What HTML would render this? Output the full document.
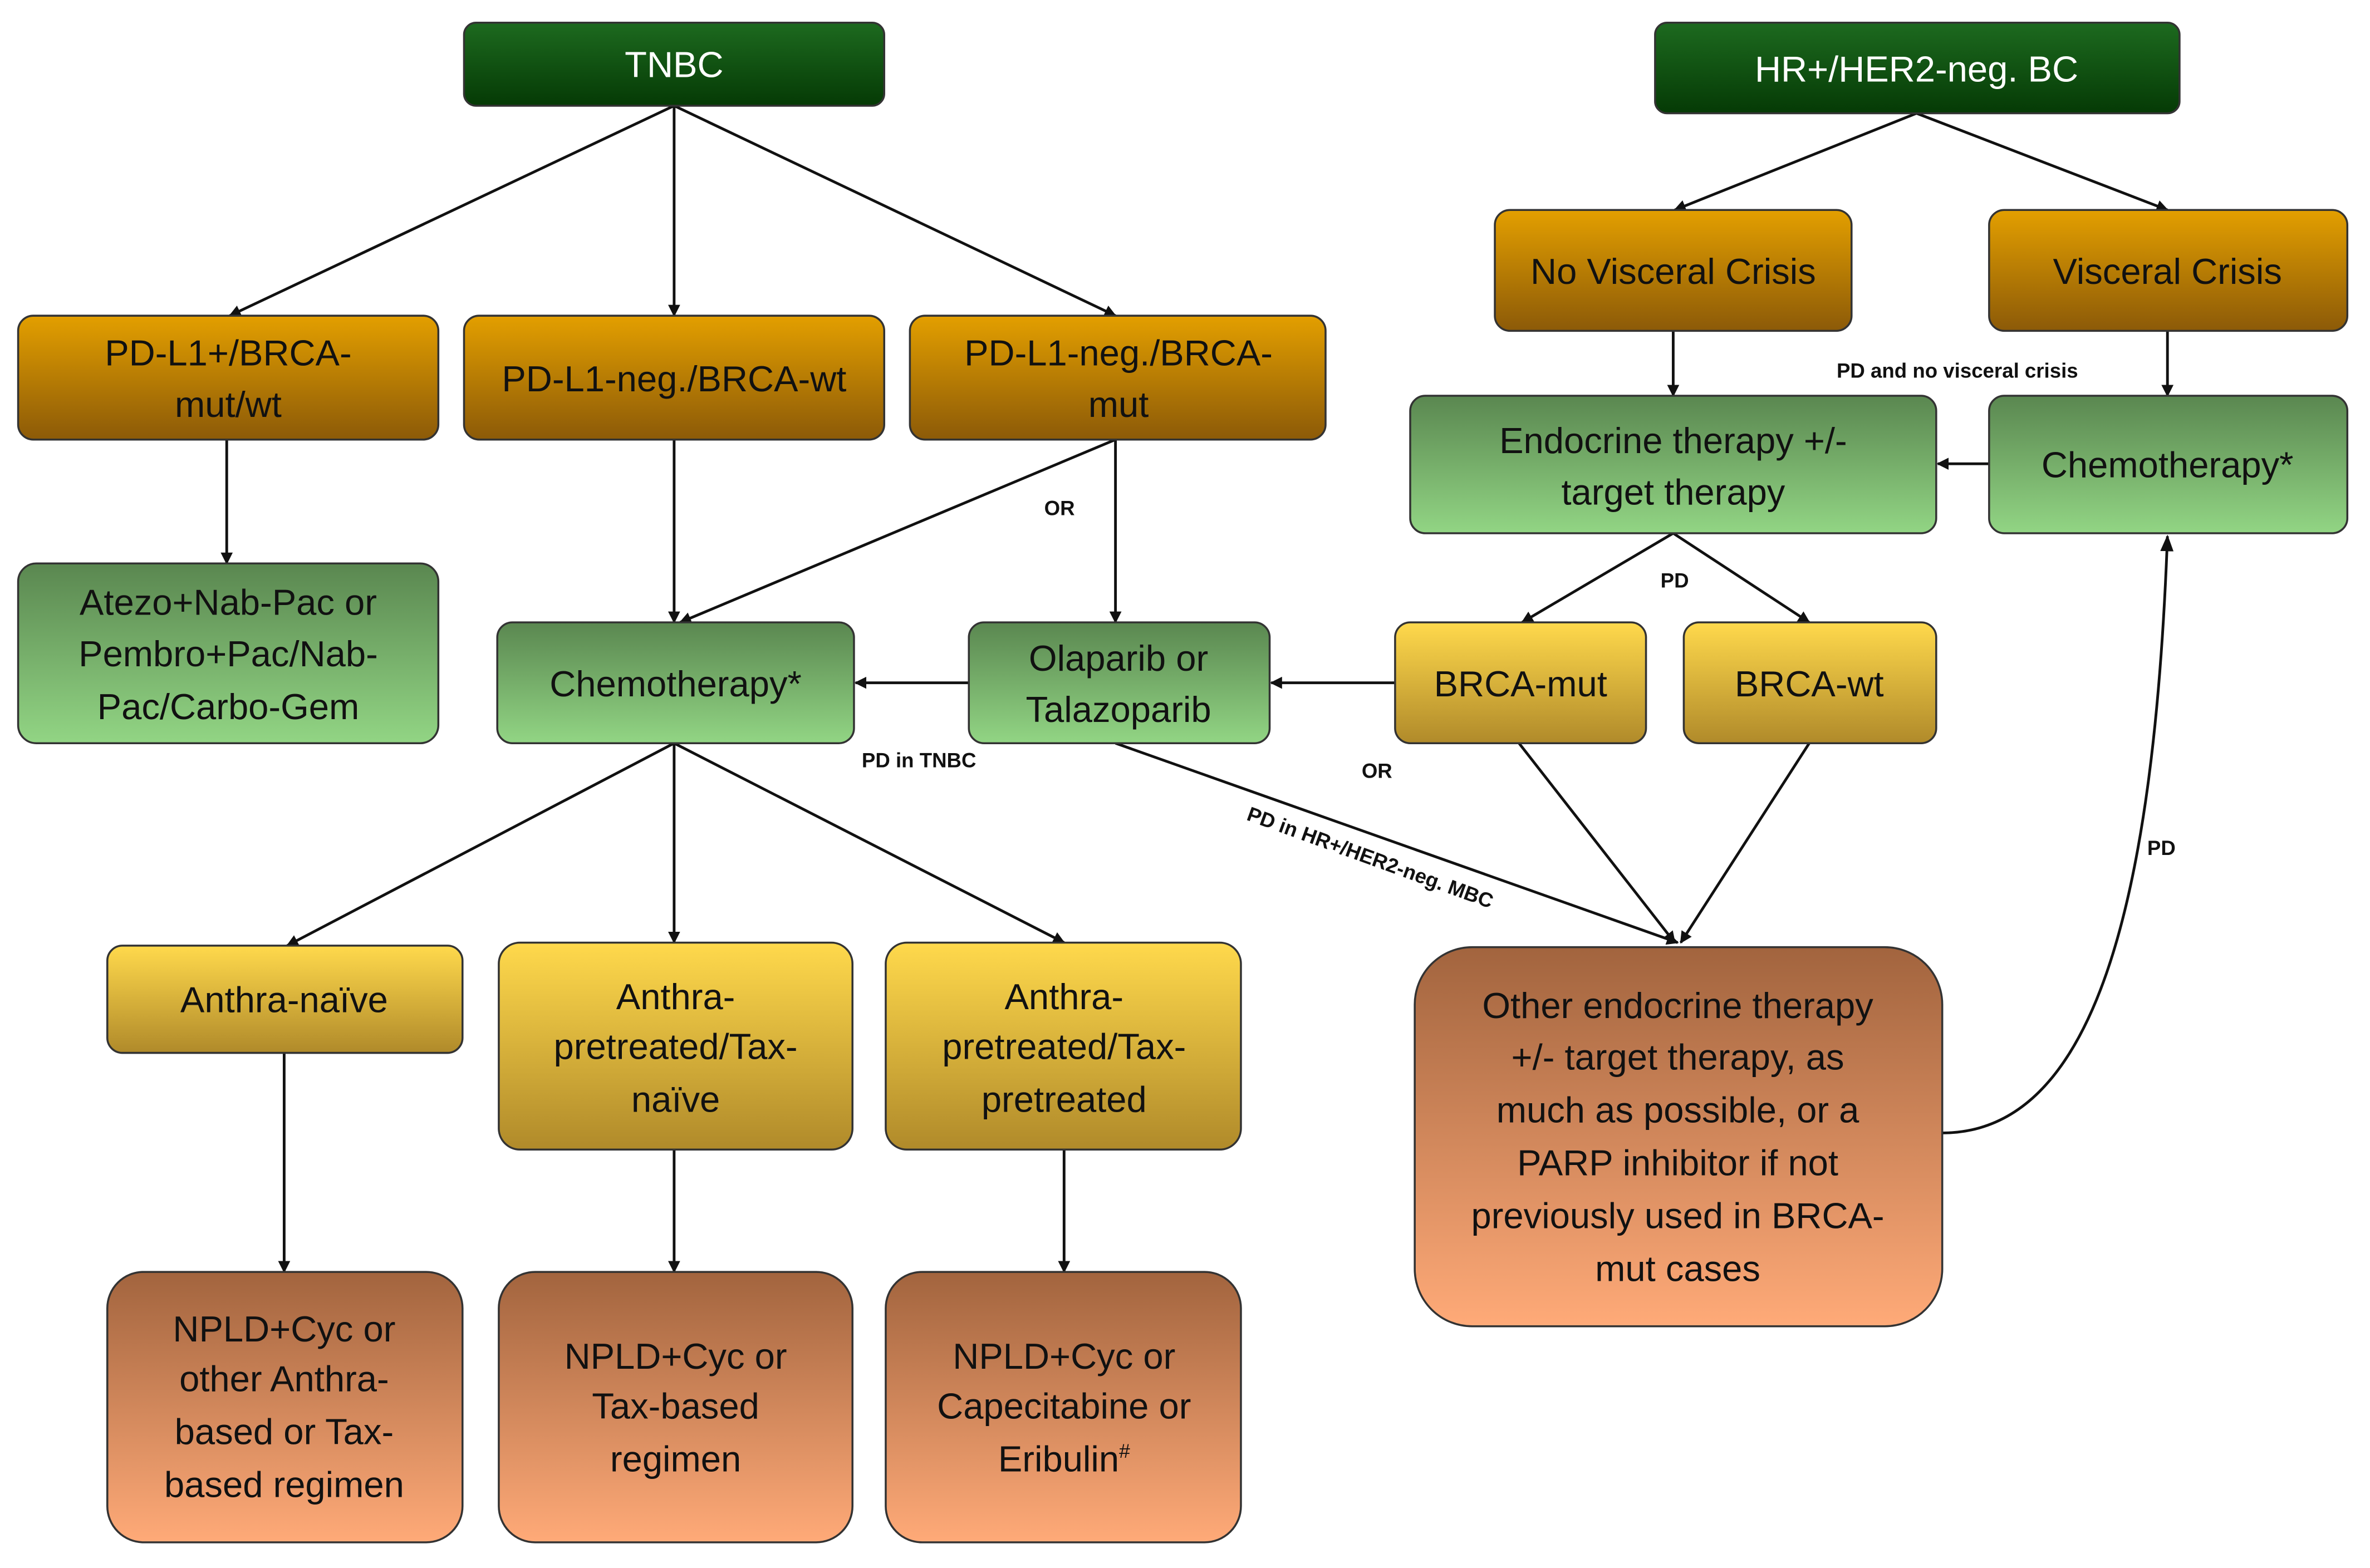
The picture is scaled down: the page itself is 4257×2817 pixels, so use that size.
<!DOCTYPE html>
<html><head><meta charset="utf-8"><style>
html,body{margin:0;padding:0;background:#fff;}
svg{display:block;}
text{font-family:"Liberation Sans",sans-serif;}
.t{font-size:24px;fill:#111;text-anchor:middle;}
.w{font-size:24px;fill:#fff;text-anchor:middle;}
.l{font-size:13.5px;font-weight:bold;fill:#111;text-anchor:middle;}
.b{stroke:#333;stroke-width:1.3;}
.e{stroke:#111;stroke-width:1.8;fill:none;marker-end:url(#ar);}
</style></head><body>
<svg width="4257" height="2817" viewBox="0 0 1568 1038" preserveAspectRatio="none" xmlns="http://www.w3.org/2000/svg">
<defs>
<linearGradient id="dg" x1="0" y1="0" x2="0" y2="1"><stop offset="0" stop-color="#1d6a1f"/><stop offset="1" stop-color="#053a05"/></linearGradient>
<linearGradient id="og" x1="0" y1="0" x2="0" y2="1"><stop offset="0" stop-color="#e39f00"/><stop offset="1" stop-color="#8c5a08"/></linearGradient>
<linearGradient id="gg" x1="0" y1="0" x2="0" y2="1"><stop offset="0" stop-color="#5a8750"/><stop offset="1" stop-color="#92d584"/></linearGradient>
<linearGradient id="yg" x1="0" y1="0" x2="0" y2="1"><stop offset="0" stop-color="#ffd94c"/><stop offset="1" stop-color="#b08a2a"/></linearGradient>
<linearGradient id="sg" x1="0" y1="0" x2="0" y2="1"><stop offset="0" stop-color="#a2643e"/><stop offset="1" stop-color="#ffaa78"/></linearGradient>
<marker id="ar" viewBox="0 0 10 10" refX="9" refY="5" markerWidth="8" markerHeight="8" orient="auto" markerUnits="userSpaceOnUse"><path d="M0,0 L10,5 L0,10 z" fill="#111"/></marker>
<marker id="ar2" viewBox="0 0 10 10" refX="9" refY="5" markerWidth="11" markerHeight="11" orient="auto" markerUnits="userSpaceOnUse"><path d="M0,1 L10,5 L0,9 z" fill="#111"/></marker>
</defs>

<line class="e" x1="446" y1="70" x2="152" y2="209"/>
<line class="e" x1="446" y1="70" x2="446" y2="209"/>
<line class="e" x1="446" y1="70" x2="738" y2="209"/>
<line class="e" x1="150" y1="291" x2="150" y2="373"/>
<line class="e" x1="446" y1="291" x2="446" y2="412"/>
<line class="e" x1="738" y1="291" x2="450" y2="412"/>
<line class="e" x1="738" y1="291" x2="738" y2="412"/>
<line class="e" x1="641" y1="452" x2="566" y2="452"/>
<line class="e" x1="923" y1="452" x2="841" y2="452"/>
<line class="e" x1="446" y1="492" x2="190" y2="626"/>
<line class="e" x1="446" y1="492" x2="446" y2="624"/>
<line class="e" x1="446" y1="492" x2="704" y2="624"/>
<line class="e" x1="188" y1="697" x2="188" y2="842"/>
<line class="e" x1="446" y1="761" x2="446" y2="842"/>
<line class="e" x1="704" y1="761" x2="704" y2="842"/>
<line class="e" x1="738" y1="492" x2="1110" y2="624"/>
<line class="e" x1="1005" y1="492" x2="1108" y2="624"/>
<line class="e" x1="1197" y1="492" x2="1112" y2="624"/>
<line class="e" x1="1268" y1="75" x2="1108" y2="139"/>
<line class="e" x1="1268" y1="75" x2="1434" y2="139"/>
<line class="e" x1="1107" y1="219" x2="1107" y2="262"/>
<line class="e" x1="1434" y1="219" x2="1434" y2="262"/>
<line class="e" x1="1316" y1="307" x2="1282" y2="307"/>
<line class="e" x1="1107" y1="353" x2="1007" y2="412"/>
<line class="e" x1="1107" y1="353" x2="1197" y2="412"/>
<path d="M1285,750 C1385,750 1425,600 1434,355" stroke="#111" stroke-width="1.8" fill="none" marker-end="url(#ar2)"/>

<text class="l" x="701" y="341">OR</text>
<text class="l" x="608" y="508">PD in TNBC</text>
<text class="l" x="911" y="515">OR</text>
<text class="l" x="1295" y="250">PD and no visceral crisis</text>
<text class="l" x="1108" y="389">PD</text>
<text class="l" x="1430" y="566">PD</text>
<text class="l" x="905" y="572" transform="rotate(20 905 572)">PD in HR+/HER2-neg. MBC</text>

<rect class="b" x="307" y="15" width="278" height="55" rx="8" fill="url(#dg)"/>
<text class="w" x="446" y="51">TNBC</text>
<rect class="b" x="1095" y="15" width="347" height="60" rx="8" fill="url(#dg)"/>
<text class="w" x="1268" y="54">HR+/HER2-neg. BC</text>

<rect class="b" x="12" y="209" width="278" height="82" rx="10" fill="url(#og)"/>
<text class="t" x="151" y="242">PD-L1+/BRCA-</text><text class="t" x="151" y="276">mut/wt</text>
<rect class="b" x="307" y="209" width="278" height="82" rx="10" fill="url(#og)"/>
<text class="t" x="446" y="259">PD-L1-neg./BRCA-wt</text>
<rect class="b" x="602" y="209" width="275" height="82" rx="10" fill="url(#og)"/>
<text class="t" x="740" y="242">PD-L1-neg./BRCA-</text><text class="t" x="740" y="276">mut</text>
<rect class="b" x="989" y="139" width="236" height="80" rx="10" fill="url(#og)"/>
<text class="t" x="1107" y="188">No Visceral Crisis</text>
<rect class="b" x="1316" y="139" width="237" height="80" rx="10" fill="url(#og)"/>
<text class="t" x="1434" y="188">Visceral Crisis</text>

<rect class="b" x="933" y="262" width="348" height="91" rx="10" fill="url(#gg)"/>
<text class="t" x="1107" y="300">Endocrine therapy +/-</text><text class="t" x="1107" y="334">target therapy</text>
<rect class="b" x="1316" y="262" width="237" height="91" rx="10" fill="url(#gg)"/>
<text class="t" x="1434" y="316">Chemotherapy*</text>
<rect class="b" x="12" y="373" width="278" height="119" rx="12" fill="url(#gg)"/>
<text class="t" x="151" y="407">Atezo+Nab-Pac or</text><text class="t" x="151" y="441">Pembro+Pac/Nab-</text><text class="t" x="151" y="476">Pac/Carbo-Gem</text>
<rect class="b" x="329" y="412" width="236" height="80" rx="10" fill="url(#gg)"/>
<text class="t" x="447" y="461">Chemotherapy*</text>
<rect class="b" x="641" y="412" width="199" height="80" rx="10" fill="url(#gg)"/>
<text class="t" x="740" y="444">Olaparib or</text><text class="t" x="740" y="478">Talazoparib</text>

<rect class="b" x="923" y="412" width="166" height="80" rx="10" fill="url(#yg)"/>
<text class="t" x="1006" y="461">BRCA-mut</text>
<rect class="b" x="1114" y="412" width="167" height="80" rx="10" fill="url(#yg)"/>
<text class="t" x="1197" y="461">BRCA-wt</text>
<rect class="b" x="71" y="626" width="235" height="71" rx="10" fill="url(#yg)"/>
<text class="t" x="188" y="670">Anthra-naïve</text>
<rect class="b" x="330" y="624" width="234" height="137" rx="14" fill="url(#yg)"/>
<text class="t" x="447" y="668">Anthra-</text><text class="t" x="447" y="701">pretreated/Tax-</text><text class="t" x="447" y="736">naïve</text>
<rect class="b" x="586" y="624" width="235" height="137" rx="14" fill="url(#yg)"/>
<text class="t" x="704" y="668">Anthra-</text><text class="t" x="704" y="701">pretreated/Tax-</text><text class="t" x="704" y="736">pretreated</text>

<rect class="b" x="936" y="627" width="349" height="251" rx="38" fill="url(#sg)"/>
<text class="t" x="1110" y="674">Other endocrine therapy</text>
<text class="t" x="1110" y="708">+/- target therapy, as</text>
<text class="t" x="1110" y="743">much as possible, or a</text>
<text class="t" x="1110" y="778">PARP inhibitor if not</text>
<text class="t" x="1110" y="813">previously used in BRCA-</text>
<text class="t" x="1110" y="848">mut cases</text>

<rect class="b" x="71" y="842" width="235" height="179" rx="24" fill="url(#sg)"/>
<text class="t" x="188" y="888">NPLD+Cyc or</text><text class="t" x="188" y="921">other Anthra-</text><text class="t" x="188" y="956">based or Tax-</text><text class="t" x="188" y="991">based regimen</text>
<rect class="b" x="330" y="842" width="234" height="179" rx="24" fill="url(#sg)"/>
<text class="t" x="447" y="906">NPLD+Cyc or</text><text class="t" x="447" y="939">Tax-based</text><text class="t" x="447" y="974">regimen</text>
<rect class="b" x="586" y="842" width="235" height="179" rx="24" fill="url(#sg)"/>
<text class="t" x="704" y="906">NPLD+Cyc or</text><text class="t" x="704" y="939">Capecitabine or</text><text class="t" x="704" y="974">Eribulin<tspan font-size="13" dy="-9">#</tspan></text>
</svg>
</body></html>
